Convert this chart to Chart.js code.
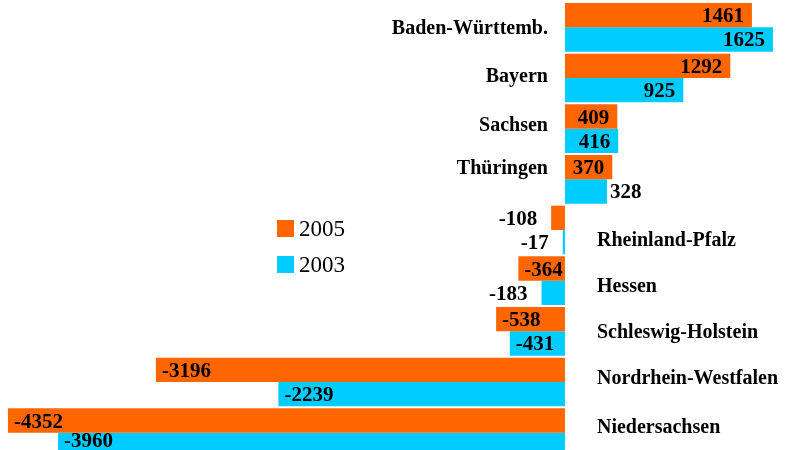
<!DOCTYPE html>
<html>
<head>
<meta charset="utf-8">
<script src="https://cdn.jsdelivr.net/npm/chart.js@4/dist/chart.umd.min.js"></script>
<style>
    html, body { margin: 0; padding: 0; overflow: hidden; background: #fff; }
    #wrap { position: relative; width: 786px; height: 458px; }
</style>
</head>
<body>
<div id="wrap"><canvas id="chart"></canvas></div>
<script>
(function () {
    "use strict";

    // Data
    const states = [
        "Baden-Württemb.",
        "Bayern",
        "Sachsen",
        "Thüringen",
        "Rheinland-Pfalz",
        "Hessen",
        "Schleswig-Holstein",
        "Nordrhein-Westfalen",
        "Niedersachsen",
    ];
    const values2005 = [1461, 1292, 409, 370, -108, -364, -538, -3196, -4352];
    const values2003 = [1625, 925, 416, 328, -17, -183, -431, -2239, -3960];

    // small vertical nudges of the state names, as in the original
    const labelNudge = [0, -2.5, -4, -12, 9, 5, 0, -4.5, -6.6];

    const ORANGE = "#ff6600";
    const CYAN = "#00ccff";
    const FONT = '"Liberation Serif", "Times New Roman", serif';

    const labelPlugin = {
        id: "labels",
        afterDatasetsDraw(chart) {
            const ctx = chart.ctx;
            const yScale = chart.scales.y;
            const xScale = chart.scales.x;
            const zero = xScale.getPixelForValue(0);
            ctx.save();
            ctx.fillStyle = "#000";

            // value labels
            ctx.font = "bold 21px " + FONT;
            ctx.textBaseline = "alphabetic";
            chart.data.datasets.forEach((ds, di) => {
                chart.getDatasetMeta(di).data.forEach((bar, i) => {
                    const v = ds.data[i];
                    const txt = String(v);
                    const w = ctx.measureText(txt).width;
                    const len = Math.abs(bar.x - zero);
                    // keep the last row readable inside the 450px window
                    const y = Math.min(bar.y + 7, 447);
                    if (v >= 0) {
                        if (w + 14 <= len) {
                            ctx.textAlign = "right";
                            ctx.fillText(txt, bar.x - 8, y);
                        } else {
                            ctx.textAlign = "left";
                            ctx.fillText(txt, bar.x + 3, y);
                        }
                    } else {
                        if (w + 8 <= len) {
                            ctx.textAlign = "left";
                            ctx.fillText(txt, bar.x + 6, y);
                        } else {
                            ctx.textAlign = "right";
                            ctx.fillText(txt, bar.x - 14, y);
                        }
                    }
                });
            });

            // state names: left of zero for gains, right of zero for losses
            ctx.font = "bold 20px " + FONT;
            states.forEach((name, i) => {
                const y = yScale.getPixelForValue(i) + 6.6 + labelNudge[i];
                if (values2005[i] >= 0) {
                    ctx.textAlign = "right";
                    ctx.fillText(name, zero - 17, y);
                } else {
                    ctx.textAlign = "left";
                    ctx.fillText(name, zero + 32, y);
                }
            });

            // legend
            ctx.font = "23px " + FONT;
            ctx.textAlign = "left";
            chart.data.datasets.forEach((ds, di) => {
                const top = 220 + di * 36;
                ctx.fillStyle = ds.backgroundColor;
                ctx.fillRect(277, top, 17, 17);
                ctx.fillStyle = "#000";
                ctx.fillText(ds.label, 299, top + 16);
            });
            ctx.restore();
        },
    };

    const ctx = document.getElementById("chart").getContext("2d");
    new Chart(ctx, {
        type: "bar",
        data: {
            labels: states,
            datasets: [
                {
                    label: "2005",
                    data: values2005,
                    backgroundColor: ORANGE,
                    borderWidth: 0,
                    categoryPercentage: 0.96,
                    barPercentage: 1,
                },
                {
                    label: "2003",
                    data: values2003,
                    backgroundColor: CYAN,
                    borderWidth: 0,
                    categoryPercentage: 0.96,
                    barPercentage: 1,
                },
            ],
        },
        options: {
            indexAxis: "y",
            responsive: true,
            maintainAspectRatio: false,
            animation: false,
            layout: {
                padding: { top: 2, bottom: 0, left: 0, right: 0 },
            },
            plugins: {
                legend: { display: false },
                tooltip: { enabled: false },
            },
            scales: {
                x: {
                    display: false,
                    min: -4414,
                    max: 1727,
                },
                y: {
                    display: false,
                },
            },
        },
        plugins: [labelPlugin],
    });
})();
</script>
</body>
</html>
